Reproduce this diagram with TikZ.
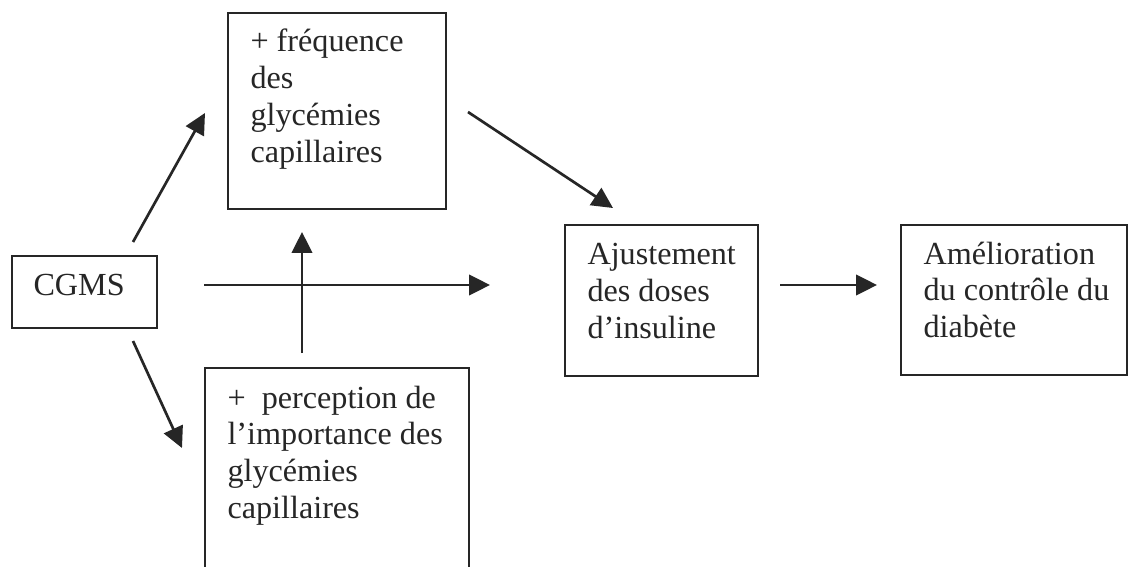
\documentclass[tikz,border=0pt]{standalone}
\usepackage{fontspec}
\setmainfont{Liberation Serif}
\usetikzlibrary{arrows.meta,fit}
\definecolor{ink}{HTML}{262626}
\newcommand{\stacklines}[1]{\vtop{\let\\\par\hsize=300pt\parindent=0pt\raggedright #1}}
\begin{document}
\begin{tikzpicture}[x=0.373pt,y=-0.373pt,
  box/.style={draw=ink,line width=1pt,inner sep=0pt,fill=none},
  txt/.style={text=ink,inner sep=0pt,anchor=base west,font=\fontsize{12}{13.8}\selectfont},
  arr/.style={draw=ink,line width=1pt,-{Triangle[length=7.8pt,width=7.6pt]}}]
\clip (0,0) rectangle (1131,567);
\fill[white] (0,0) rectangle (1131,567);
% boxes
\node[box,fit={(12,256) (157,328)}] (cgms) {};
\node[box,fit={(228,13) (446,209)}] (freq) {};
\node[box,fit={(205,368) (469,590)}] (perc) {};
\node[box,fit={(565,225) (758,376)}] (ajust) {};
\node[box,fit={(901,225) (1127,375)}] (amel) {};
% texts
\node[txt] (cgmst) at (33,295) {CGMS};
\node[txt] (freqt) at (250,52) {\stacklines{+ fréquence\\des\\glycémies\\capillaires}};
\node[txt] (perct) at (227,408) {\stacklines{+\ \ perception de\\l’importance des\\glycémies\\capillaires}};
\node[txt] (ajustt) at (587,265) {\stacklines{Ajustement\\des doses\\d’insuline}};
\node[txt] (amelt) at (923,264) {\stacklines{Amélioration\\du contrôle du\\diabète}};
% arrow end points
\coordinate (a1s) at (133,242); \coordinate (a1e) at (205,113);
\coordinate (a2s) at (133,341); \coordinate (a2e) at (182,448);
\coordinate (hs) at (204,285);  \coordinate (he) at (490,285);
\coordinate (vs) at (302,353);  \coordinate (ve) at (302,232);
\coordinate (ds) at (468,112);  \coordinate (de) at (613,208);
\coordinate (rs) at (780,285);  \coordinate (re) at (877,285);
\draw[arr] (a1s) -- (a1e);
\draw[arr] (a2s) -- (a2e);
\draw[arr] (hs) -- (he);
\draw[arr] (vs) -- (ve);
\draw[arr] (ds) -- (de);
\draw[arr] (rs) -- (re);
\end{tikzpicture}
\end{document}
